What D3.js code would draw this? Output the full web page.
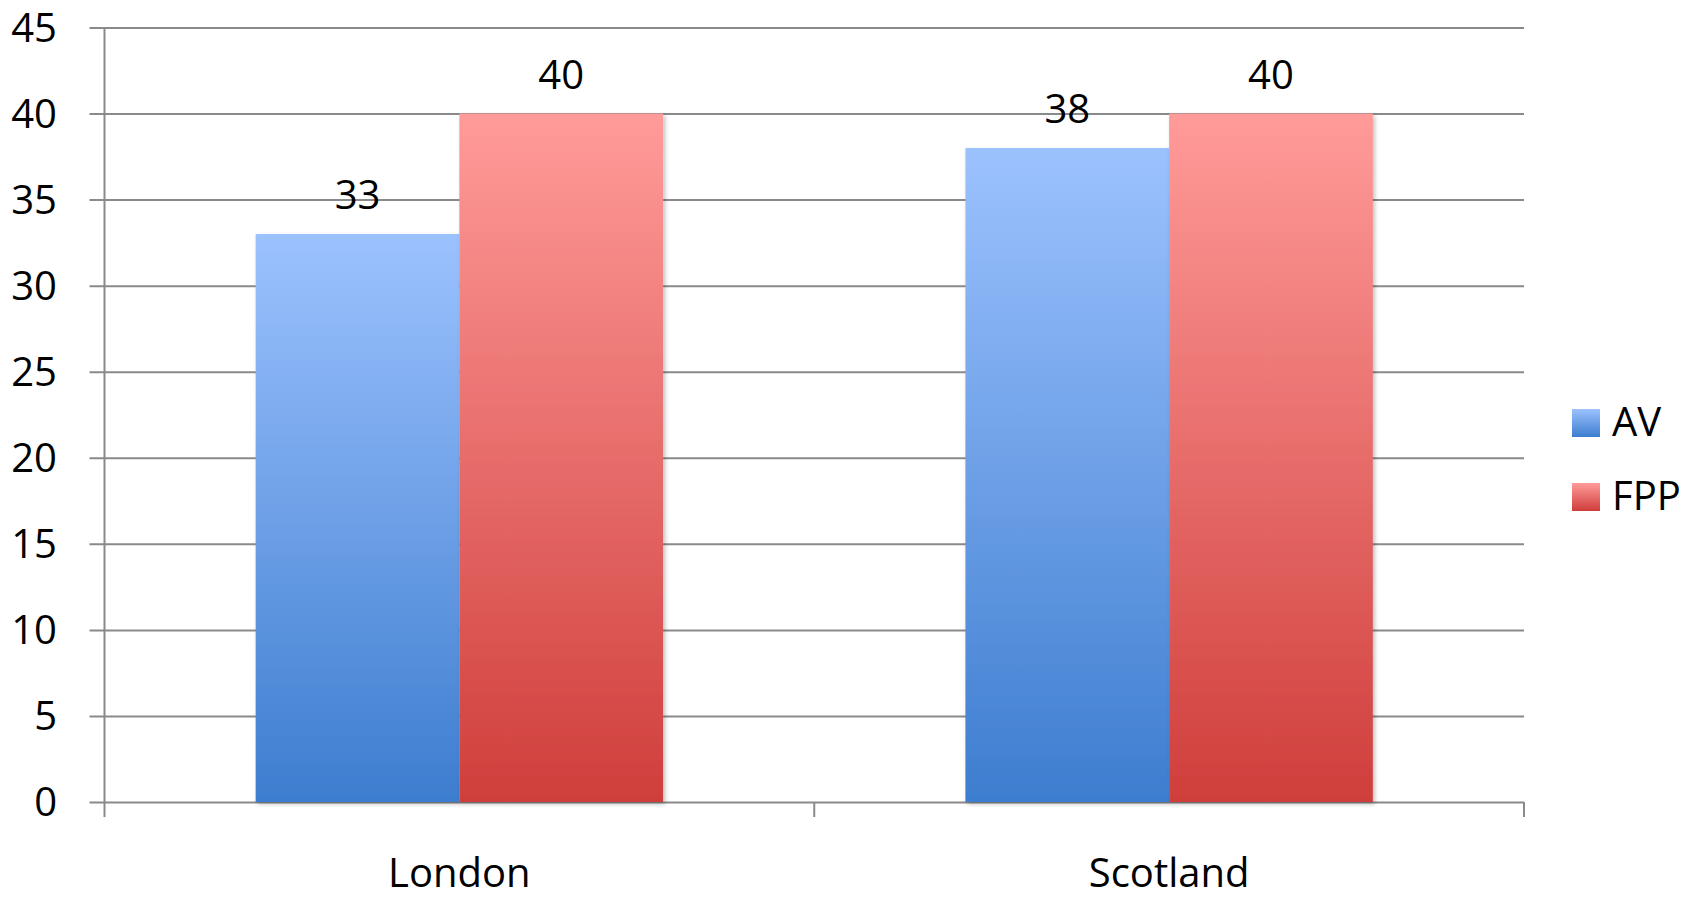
<!DOCTYPE html>
<html>
<head>
<meta charset="utf-8">
<script src="https://cdn.jsdelivr.net/npm/d3@7"></script>
<style>
  html, body { margin: 0; padding: 0; background: #fff; }
  svg { display: block; }
  text { font-family: "Open Sans", Lato, sans-serif; fill: #000; }
</style>
</head>
<body>
<svg id="chart" width="1696" height="898"></svg>
<script>
const categories = ["London", "Scotland"];
const seriesNames = ["AV", "FPP"];
const avValues = [33, 38];
const fppValues = [40, 40];
const yTicks = [0, 5, 10, 15, 20, 25, 30, 35, 40, 45];

const gradients = {
  AV: ["#9cc2fe", "#3d7dcf"],
  FPP: ["#ff9b99", "#cf3e3b"]
};

(function () {
const data = categories.map((c, i) => ({ category: c, values: [
  { series: "AV", value: avValues[i] },
  { series: "FPP", value: fppValues[i] }
]}));

const svg = d3.select("#chart");
const plotLeft = 104.5, plotRight = 1524, plotTop = 27.5, plotBottom = 802;
const fs = 40;

const y = d3.scaleLinear().domain([0, 45]).range([plotBottom, plotTop]);
const x0 = d3.scaleBand().domain(categories).range([plotLeft, plotRight]).padding(0);
const x1 = d3.scaleBand().domain(seriesNames).range([0, x0.bandwidth()]).paddingInner(0).paddingOuter(0.742);

const defs = svg.append("defs");
seriesNames.forEach(s => {
  const g = defs.append("linearGradient").attr("id", "grad-" + s)
    .attr("x1", 0).attr("y1", 0).attr("x2", 0).attr("y2", 1);
  g.append("stop").attr("offset", "0%").attr("stop-color", gradients[s][0]);
  g.append("stop").attr("offset", "100%").attr("stop-color", gradients[s][1]);
});
const f = defs.append("filter").attr("id", "shadow").attr("x", "-5%").attr("y", "-5%").attr("width", "115%").attr("height", "115%");
f.append("feDropShadow").attr("dx", 2).attr("dy", 2).attr("stdDeviation", 2).attr("flood-color", "#000").attr("flood-opacity", 0.25);

// gridlines
const yAxis = d3.axisLeft(y).tickValues(yTicks).tickSize(plotRight - plotLeft + 15).tickPadding(0).tickFormat("");
const gy = svg.append("g").attr("transform", `translate(${plotRight},0)`).call(yAxis);
gy.select(".domain").remove();
gy.selectAll(".tick line").attr("stroke", "#8a8a8a").attr("stroke-width", 2);

// y-axis line
svg.append("line").attr("x1", plotLeft).attr("x2", plotLeft).attr("y1", plotTop).attr("y2", plotBottom)
  .attr("stroke", "#8a8a8a").attr("stroke-width", 2);

// x-axis ticks
const xTickPositions = [plotLeft, plotLeft + x0.step(), plotRight];
svg.selectAll(".xtick").data(xTickPositions).enter().append("line")
  .attr("x1", d => d).attr("x2", d => d).attr("y1", plotBottom).attr("y2", plotBottom + 15)
  .attr("stroke", "#8a8a8a").attr("stroke-width", 2);

// y labels
svg.selectAll(".ylab").data(yTicks).enter().append("text")
  .attr("x", 57).attr("y", d => y(d) + 14)
  .attr("text-anchor", "end").attr("font-size", fs).text(d => d);

// bars
const groups = svg.selectAll(".grp").data(data).enter().append("g")
  .attr("transform", d => `translate(${x0(d.category)},0)`);
groups.selectAll("rect").data(d => d.values).enter().append("rect")
  .attr("x", d => x1(d.series)).attr("width", x1.bandwidth())
  .attr("y", d => y(d.value)).attr("height", d => y(0) - y(d.value))
  .attr("fill", d => `url(#grad-${d.series})`).attr("filter", "url(#shadow)");
groups.selectAll(".vlab").data(d => d.values).enter().append("text")
  .attr("x", d => x1(d.series) + x1.bandwidth() / 2)
  .attr("y", d => y(d.value) - 25)
  .attr("text-anchor", "middle").attr("font-size", fs).text(d => d.value);

// category labels
svg.selectAll(".xlab").data(categories).enter().append("text")
  .attr("x", d => x0(d) + x0.bandwidth() / 2).attr("y", 887)
  .attr("text-anchor", "middle").attr("font-size", fs).text(d => d);

// legend
const leg = svg.selectAll(".leg").data(seriesNames).enter().append("g")
  .attr("transform", (d, i) => `translate(1572,${409 + i * 74})`);
leg.append("rect").attr("width", 28).attr("height", 28).attr("fill", d => `url(#grad-${d})`);
leg.append("text").attr("x", 40).attr("y", 27).attr("font-size", fs).text(d => d);
})();
</script>
</body>
</html>
